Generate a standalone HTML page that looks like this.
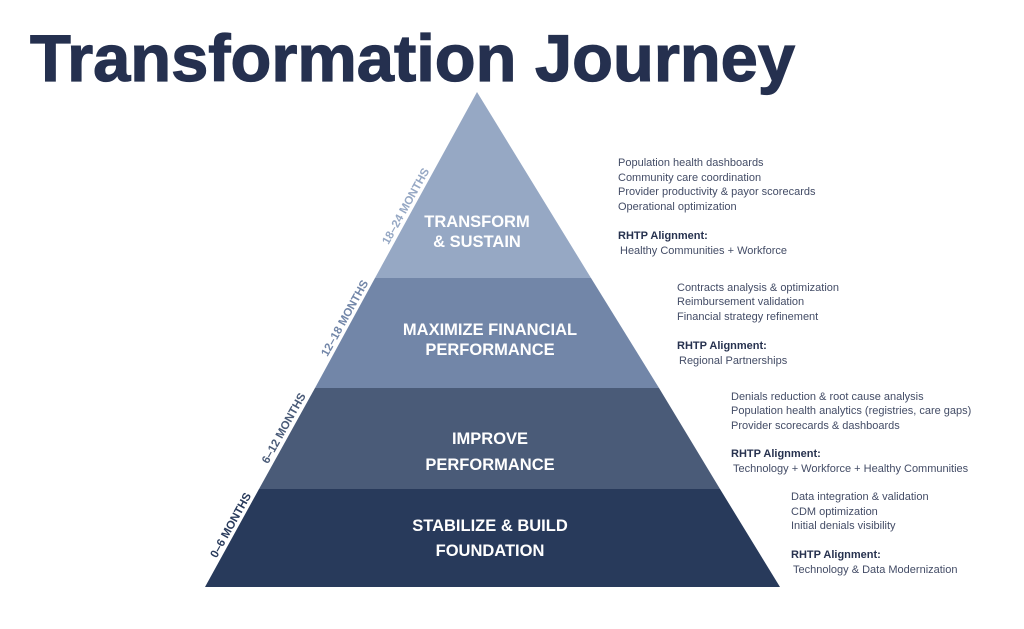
<!DOCTYPE html>
<html><head><meta charset="utf-8"><style>
html,body{margin:0;padding:0;background:#fff;}
svg{display:block;}
text{font-family:"Liberation Sans",sans-serif;}
.r{font-size:11px;fill:#434c66;}
.b{font-size:11px;fill:#27324f;font-weight:bold;}
.l{font-size:16.5px;fill:#fff;font-weight:bold;text-anchor:middle;}
.m{font-size:11.5px;font-weight:bold;text-anchor:middle;}
</style></head><body>
<svg width="1024" height="629" viewBox="0 0 1024 629" xmlns="http://www.w3.org/2000/svg">
<text x="30" y="81" font-size="66" font-weight="bold" fill="#25304f" stroke="#25304f" stroke-width="1.2" textLength="765" lengthAdjust="spacingAndGlyphs">Transformation Journey</text>
<polygon points="477,92 591,278 375,278" fill="#96a8c4"/>
<polygon points="375,278 591,278 659,388 315,388" fill="#7286a8"/>
<polygon points="315,388 659,388 720,489 259,489" fill="#4a5b78"/>
<polygon points="259,489 720,489 780,587 205,587" fill="#283a5b"/>
<text class="l" x="477" y="227">TRANSFORM</text>
<text class="l" x="477" y="247">&amp; SUSTAIN</text>
<text class="l" x="490" y="335">MAXIMIZE FINANCIAL</text>
<text class="l" x="490" y="355">PERFORMANCE</text>
<text class="l" x="490" y="444">IMPROVE</text>
<text class="l" x="490" y="470">PERFORMANCE</text>
<text class="l" x="490" y="531">STABILIZE &amp; BUILD</text>
<text class="l" x="490" y="556">FOUNDATION</text>
<text class="m" fill="#96a8c4" transform="translate(409,208) rotate(-61)">18–24 MONTHS</text>
<text class="m" fill="#7286a8" transform="translate(348,320) rotate(-61)">12–18 MONTHS</text>
<text class="m" fill="#4a5b78" transform="translate(287,430) rotate(-61)">6–12 MONTHS</text>
<text class="m" fill="#283a5b" transform="translate(234,527) rotate(-61)">0–6 MONTHS</text>
<text class="r" x="618" y="166">Population health dashboards</text>
<text class="r" x="618" y="181">Community care coordination</text>
<text class="r" x="618" y="195">Provider productivity &amp; payor scorecards</text>
<text class="r" x="618" y="210">Operational optimization</text>
<text class="b" x="618" y="239">RHTP Alignment:</text>
<text class="r" x="620" y="254">Healthy Communities + Workforce</text>
<text class="r" x="677" y="291">Contracts analysis &amp; optimization</text>
<text class="r" x="677" y="305">Reimbursement validation</text>
<text class="r" x="677" y="320">Financial strategy refinement</text>
<text class="b" x="677" y="349">RHTP Alignment:</text>
<text class="r" x="679" y="364">Regional Partnerships</text>
<text class="r" x="731" y="400">Denials reduction &amp; root cause analysis</text>
<text class="r" x="731" y="414">Population health analytics (registries, care gaps)</text>
<text class="r" x="731" y="429">Provider scorecards &amp; dashboards</text>
<text class="b" x="731" y="457">RHTP Alignment:</text>
<text class="r" x="733" y="472">Technology + Workforce + Healthy Communities</text>
<text class="r" x="791" y="500">Data integration &amp; validation</text>
<text class="r" x="791" y="515">CDM optimization</text>
<text class="r" x="791" y="529">Initial denials visibility</text>
<text class="b" x="791" y="558">RHTP Alignment:</text>
<text class="r" x="793" y="573">Technology &amp; Data Modernization</text>
</svg>
</body></html>
